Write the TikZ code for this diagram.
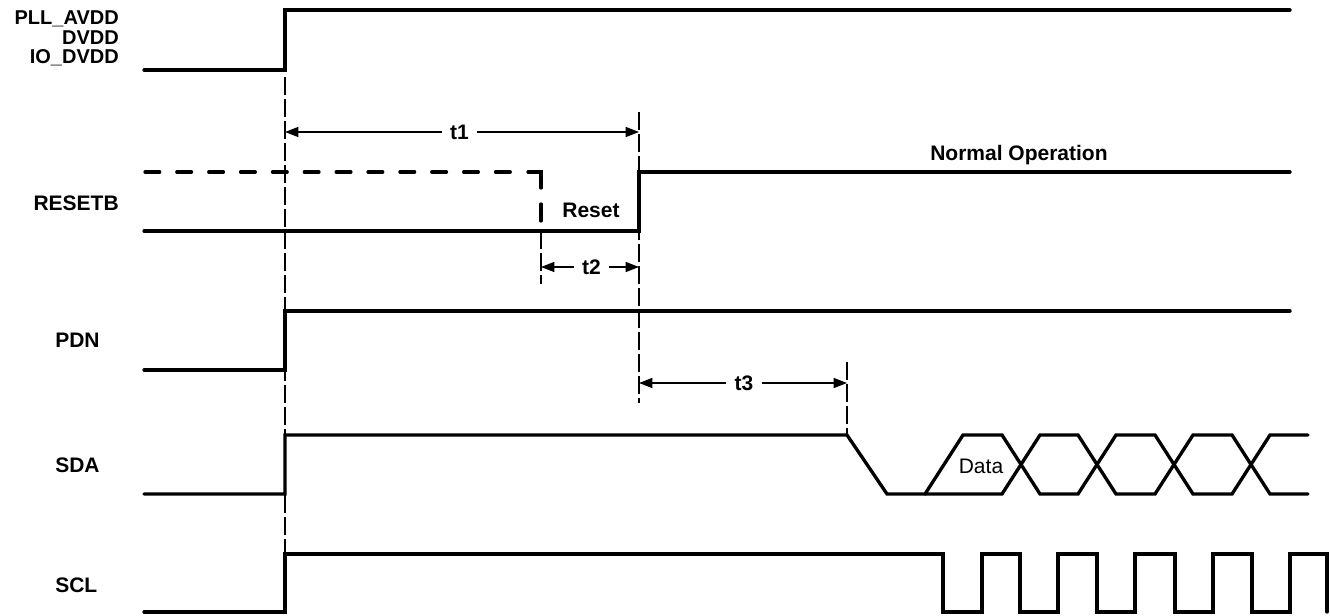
\documentclass[tikz,border=0pt]{standalone}
\usepackage{fontspec}
\setmainfont{Liberation Sans}
\usetikzlibrary{arrows.meta}
\begin{document}
\begin{tikzpicture}[x=0.75pt,y=-0.75pt,
  sig/.style={line width=2.5pt, line join=miter, line cap=round},
  resetdash/.style={line width=2.5pt, line cap=round, dash pattern=on 11pt off 12.9pt},
  guide/.style={line width=0.8pt, dash pattern=on 13.5pt off 3pt},
  dim/.style={line width=1pt, -{Triangle[length=10pt,width=7.5pt]}, shorten >=0pt},
  lab/.style={font=\fontsize{15.75}{18}\selectfont\bfseries, inner sep=0pt},
  toplab/.style={font=\fontsize{15}{15}\selectfont\bfseries, inner sep=0pt},
  dimlab/.style={font=\fontsize{15.75}{18}\selectfont\bfseries, inner xsep=6pt, inner ysep=0pt},
  datalab/.style={font=\fontsize{15.75}{18}\selectfont, inner sep=0pt}]
\useasboundingbox (0,0) rectangle (1330,616);

% signal labels
\node[toplab, anchor=base east] (pll) at (119,25) {PLL\_AVDD};
\node[toplab, anchor=base east] (dvdd) at (119,44.5) {DVDD};
\node[toplab, anchor=base east] (iodvdd) at (119,64) {IO\_DVDD};
\node[lab, anchor=base east] (resetb) at (119,210.5) {RESETB};
\node[lab, anchor=base west] (pdn) at (55,348) {PDN};
\node[lab, anchor=base west] (sda) at (55,472) {SDA};
\node[lab, anchor=base west] (scl) at (55,592) {SCL};

% guide lines
\coordinate (g1a) at (285,77);  \coordinate (g1b) at (285,554);
\coordinate (g2a) at (639,112); \coordinate (g2b) at (639,403);
\coordinate (g3a) at (541,231); \coordinate (g3b) at (541,284);
\coordinate (g4a) at (847,362); \coordinate (g4b) at (847,435);
\draw[guide] (g1a) -- (g1b);
\draw[guide] (g2a) -- (g2b);
\draw[guide] (g3a) -- (g3b);
\draw[guide] (g4a) -- (g4b);

% PLL_AVDD / DVDD / IO_DVDD
\draw[sig] (144,70) -- (285,70) -- (285,10) -- (1290,10);

% RESETB
\draw[resetdash] (145,172) -- (520,172);
\draw[sig] (528,172) -- (541,172) -- (541,188);
\draw[sig] (541,204) -- (541,221);
\draw[sig] (144,231) -- (639,231) -- (639,172) -- (1290,172);
\node[lab, anchor=base] (reset) at (591,218) {Reset};
\node[lab, anchor=base west] (normal) at (930,161) {Normal Operation};

% PDN
\draw[sig] (144,370) -- (285,370) -- (285,311) -- (1290,311);

% SDA
\draw[sig] (144,494) -- (285,494) -- (285,435) -- (847,435) -- (887,494) -- (925,494)
  -- (963,435) -- (1002,435) -- (1040,494) -- (1078,494) -- (1116,435) -- (1155,435)
  -- (1193,494) -- (1232,494) -- (1270,435) -- (1308,435);
\draw[sig] (925,494) -- (1002,494) -- (1040,435) -- (1078,435) -- (1116,494) -- (1155,494)
  -- (1193,435) -- (1232,435) -- (1270,494) -- (1308,494);
\node[datalab, anchor=base] (data) at (981,473) {Data};

% SCL
\draw[sig] (144,612) -- (285,612) -- (285,554) -- (943,554) -- (943,612) -- (982,612)
  -- (982,554) -- (1020,554) -- (1020,612) -- (1058,612) -- (1058,554) -- (1097,554)
  -- (1097,612) -- (1135,612) -- (1135,554) -- (1175,554) -- (1175,612) -- (1213,612)
  -- (1213,554) -- (1252,554) -- (1252,612) -- (1290,612) -- (1290,554) -- (1327,554)
  -- (1327,612);

% timing dimensions
\coordinate (t1L) at (285,132); \coordinate (t1R) at (639,132);
\coordinate (t2L) at (541,267); \coordinate (t2R) at (639,267);
\coordinate (t3L) at (639,383); \coordinate (t3R) at (847,383);
\node[dimlab] (t1) at (459.5,132) {t1};
\node[dimlab] (t2) at (591.5,267) {t2};
\node[dimlab] (t3) at (744,383) {t3};
\draw[dim] (t1.west) -- (t1L);
\draw[dim] (t1.east) -- (t1R);
\draw[dim] (t2.west) -- (t2L);
\draw[dim] (t2.east) -- (t2R);
\draw[dim] (t3.west) -- (t3L);
\draw[dim] (t3.east) -- (t3R);
\end{tikzpicture}
\end{document}
